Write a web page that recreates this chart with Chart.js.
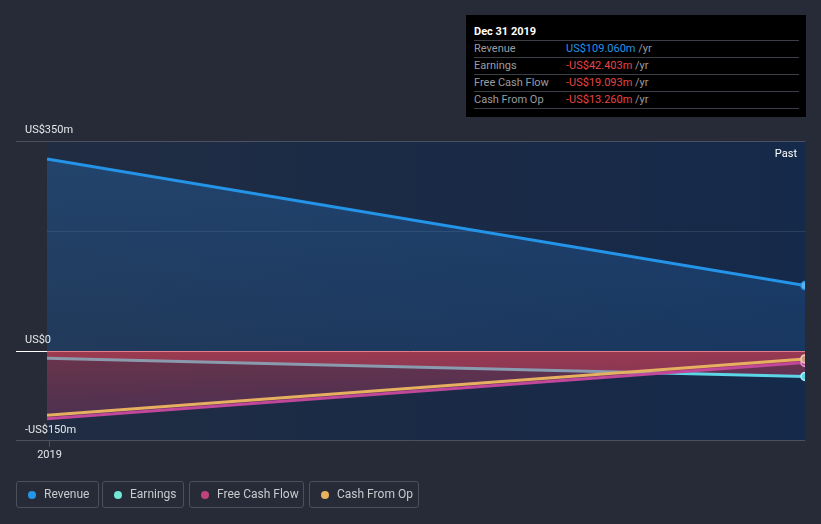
<!DOCTYPE html>
<html>
<head>
<meta charset="utf-8">
<script src="https://cdn.jsdelivr.net/npm/chart.js@4"></script>
<style>
  body { margin: 0; background: #262b37; font-family: Roboto, "Noto Sans", sans-serif; }
  #wrap { position: relative; width: 821px; height: 524px; overflow: hidden; }
  #chart { position: absolute; left: 0; top: 0; }
  #tip { position: absolute; left: 466px; top: 15px; width: 340px; height: 102px; background: #000; }
  #tip .title { position: absolute; left: 8px; top: 8px; color: #fff; font-weight: bold; font-size: 11px; line-height: 17px; }
  #tip .row { position: absolute; left: 8px; width: 325px; height: 17px; border-top: 1px solid #3c3f45; font-size: 11px; line-height: 15px; color: #9a9ca0; }
  #tip .row .v { position: absolute; left: 92px; }
  #tip .row .u { color: #9a9ca0; }
  .legend { position: absolute; top: 481px; height: 27px; border: 1px solid #4a505c; border-radius: 3px; box-sizing: border-box; color: #c8cace; font-size: 12px; line-height: 25px; }
  .legend i { position: absolute; left: 11px; top: 9px; width: 8px; height: 8px; border-radius: 50%; }
  .legend span { position: absolute; left: 27px; white-space: nowrap; }
</style>
</head>
<body>
<div id="wrap">
  <canvas id="chart" width="821" height="524"></canvas>
  <div id="tip"></div>
  <div id="legend"></div>
</div>
<script>
const years = [2018.997, 2019.997];
const revenue = [320, 109.06];
const earnings = [-12, -42.403];
const freeCashFlow = [-113, -19.093];
const cashFromOp = [-107, -13.26];
const yTicks = [350, 0, -150];
const yLabels = ['US$350m', 'US$0', '-US$150m'];
const extraGrid = [200];
const xTicks = [2019];
const xLabels = ['2019'];

const seriesNames = ['Revenue', 'Earnings', 'Free Cash Flow', 'Cash From Op'];
const seriesColors = ['#2394e8', '#5cd6e6', '#c0479a', '#e6b060'];
const legendDots = ['#2496e8', '#71e7d6', '#c0437f', '#e8b35e'];
const tipValues = ['US$109.060m', '-US$42.403m', '-US$19.093m', '-US$13.260m'];
const tipColors = ['#2394e8', '#e64545', '#e64545', '#e64545'];

// tooltip box
const tip = document.getElementById('tip');
let html = '<div class="title">Dec 31 2019</div>';
seriesNames.forEach((n, i) => {
    html += `<div class="row" style="top:${25 + i * 17}px">${n}<span class="v"><span style="color:${tipColors[i]}">${tipValues[i]}</span> <span class="u">/yr</span></span></div>`;
});
html += `<div class="row" style="top:${25 + 4 * 17}px;height:0"></div>`;
tip.innerHTML = html;

// legend boxes
const legendBox = [[16, 83], [102, 82], [189, 115], [309, 110]];
const legend = document.getElementById('legend');
seriesNames.forEach((n, i) => {
    const d = document.createElement('div');
    d.className = 'legend';
    d.style.left = legendBox[i][0] + 'px';
    d.style.width = legendBox[i][1] + 'px';
    d.innerHTML = `<i style="background:${legendDots[i]}"></i><span>${n}</span>`;
    legend.appendChild(d);
});

function pts(vals) {
    return years.map((x, i) => ({ x: x, y: vals[i] }));
}

function redFill(alphaTop, alphaBottom) {
    return function(ctx) {
        const chart = ctx.chart;
        const area = chart.chartArea;
        if (!area) return 'rgba(0,0,0,0)';
        const y0 = chart.scales.y.getPixelForValue(0);
        const g = chart.ctx.createLinearGradient(0, y0, 0, area.bottom);
        g.addColorStop(0, `rgba(214,64,84,${alphaTop})`);
        g.addColorStop(1, `rgba(175,60,120,${alphaBottom})`);
        return g;
    };
}

function blueFill(ctx) {
    const chart = ctx.chart;
    const area = chart.chartArea;
    if (!area) return 'rgba(0,0,0,0)';
    const y0 = chart.scales.y.getPixelForValue(0);
    const g = chart.ctx.createLinearGradient(0, area.top, 0, y0);
    g.addColorStop(0, 'rgba(40,120,200,0.32)');
    g.addColorStop(1, 'rgba(40,120,200,0.18)');
    return g;
}

const lastDot = ctx => ctx.dataIndex === years.length - 1 ? 4 : 0;

const backdrop = {
    id: 'backdrop',
    beforeDatasetsDraw(chart) {
        const c = chart.ctx, a = chart.chartArea, y = chart.scales.y;
        const g = c.createLinearGradient(a.left, 0, a.right, 0);
        g.addColorStop(0, '#202c42');
        g.addColorStop(1, '#15294a');
        c.save();
        c.fillStyle = g;
        c.fillRect(a.left, a.top, a.right - a.left, a.bottom - a.top);
        // grid lines
        c.lineWidth = 1;
        c.strokeStyle = '#4a5262';
        c.beginPath();
        c.moveTo(16, Math.round(y.getPixelForValue(350)) + 0.5);
        c.lineTo(a.right, Math.round(y.getPixelForValue(350)) + 0.5);
        c.stroke();
        c.strokeStyle = 'rgba(255,255,255,0.1)';
        extraGrid.forEach(v => {
            const py = Math.round(y.getPixelForValue(v)) + 0.5;
            c.beginPath(); c.moveTo(a.left, py); c.lineTo(a.right, py); c.stroke();
        });
        c.strokeStyle = '#4a5262';
        const pb = Math.round(y.getPixelForValue(-150)) - 0.5;
        c.beginPath(); c.moveTo(16, pb); c.lineTo(a.right, pb); c.stroke();
        // zero line
        const pz = Math.round(y.getPixelForValue(0)) + 0.5;
        c.strokeStyle = '#ffffff';
        c.beginPath(); c.moveTo(16, pz); c.lineTo(a.right, pz); c.stroke();
        c.restore();
    },
    afterDatasetsDraw(chart) {
        const c = chart.ctx, a = chart.chartArea, x = chart.scales.x, y = chart.scales.y;
        c.save();
        c.font = '11px Roboto, "Noto Sans", sans-serif';
        c.fillStyle = '#e6e8ec';
        c.textBaseline = 'alphabetic';
        c.textAlign = 'left';
        yTicks.forEach((v, i) => {
            c.fillText(yLabels[i], 25, y.getPixelForValue(v) - 8);
        });
        c.textAlign = 'center';
        c.strokeStyle = '#4a5262';
        xTicks.forEach((v, i) => {
            const px = Math.round(x.getPixelForValue(v)) + 0.5;
            c.beginPath(); c.moveTo(px, a.bottom); c.lineTo(px, a.bottom + 6); c.stroke();
            c.fillText(xLabels[i], px, a.bottom + 17);
        });
        c.textAlign = 'right';
        c.fillStyle = '#ffffff';
        c.fillText('Past', a.right - 8, a.top + 16);
        c.restore();
    }
};

new Chart(document.getElementById('chart'), {
    type: 'line',
    data: {
        datasets: [
            {
                label: 'Revenue', data: pts(revenue), order: 1,
                borderColor: seriesColors[0], borderWidth: 3,
                fill: 'origin', backgroundColor: blueFill,
                pointRadius: lastDot, pointBackgroundColor: '#5ab4f2', pointBorderColor: seriesColors[0], pointBorderWidth: 1.5,
                clip: 0
            },
            {
                label: 'Cash From Op', data: pts(cashFromOp), order: 2,
                borderColor: seriesColors[3], borderWidth: 3, fill: false,
                pointRadius: lastDot, pointBackgroundColor: '#c99a8a', pointBorderColor: '#f0d0b0', pointBorderWidth: 1.5,
                clip: 0
            },
            {
                label: 'Free Cash Flow', data: pts(freeCashFlow), order: 3,
                borderColor: seriesColors[2], borderWidth: 3,
                fill: 'origin', backgroundColor: redFill(0.42, 0.25),
                pointRadius: lastDot, pointBackgroundColor: '#c0479a', pointBorderColor: '#e0a0d0', pointBorderWidth: 1.5,
                clip: 0
            },
            {
                label: 'Earnings', data: pts(earnings), order: 4,
                borderColor: seriesColors[1], borderWidth: 3,
                fill: 'origin', backgroundColor: redFill(0.45, 0.3),
                pointRadius: lastDot, pointBackgroundColor: '#5cd6e6', pointBorderColor: '#b0f0f8', pointBorderWidth: 1.5,
                clip: 0
            }
        ]
    },
    options: {
        responsive: false,
        animation: false,
        layout: { padding: { left: 47, right: 16, top: 141, bottom: 83 } },
        scales: {
            x: { type: 'linear', display: false, min: years[0], max: years[1] },
            y: { display: false, min: -150, max: 350 }
        },
        plugins: { legend: { display: false }, tooltip: { enabled: false } },
        elements: { line: { tension: 0 } }
    },
    plugins: [backdrop]
});
</script>
</body>
</html>
